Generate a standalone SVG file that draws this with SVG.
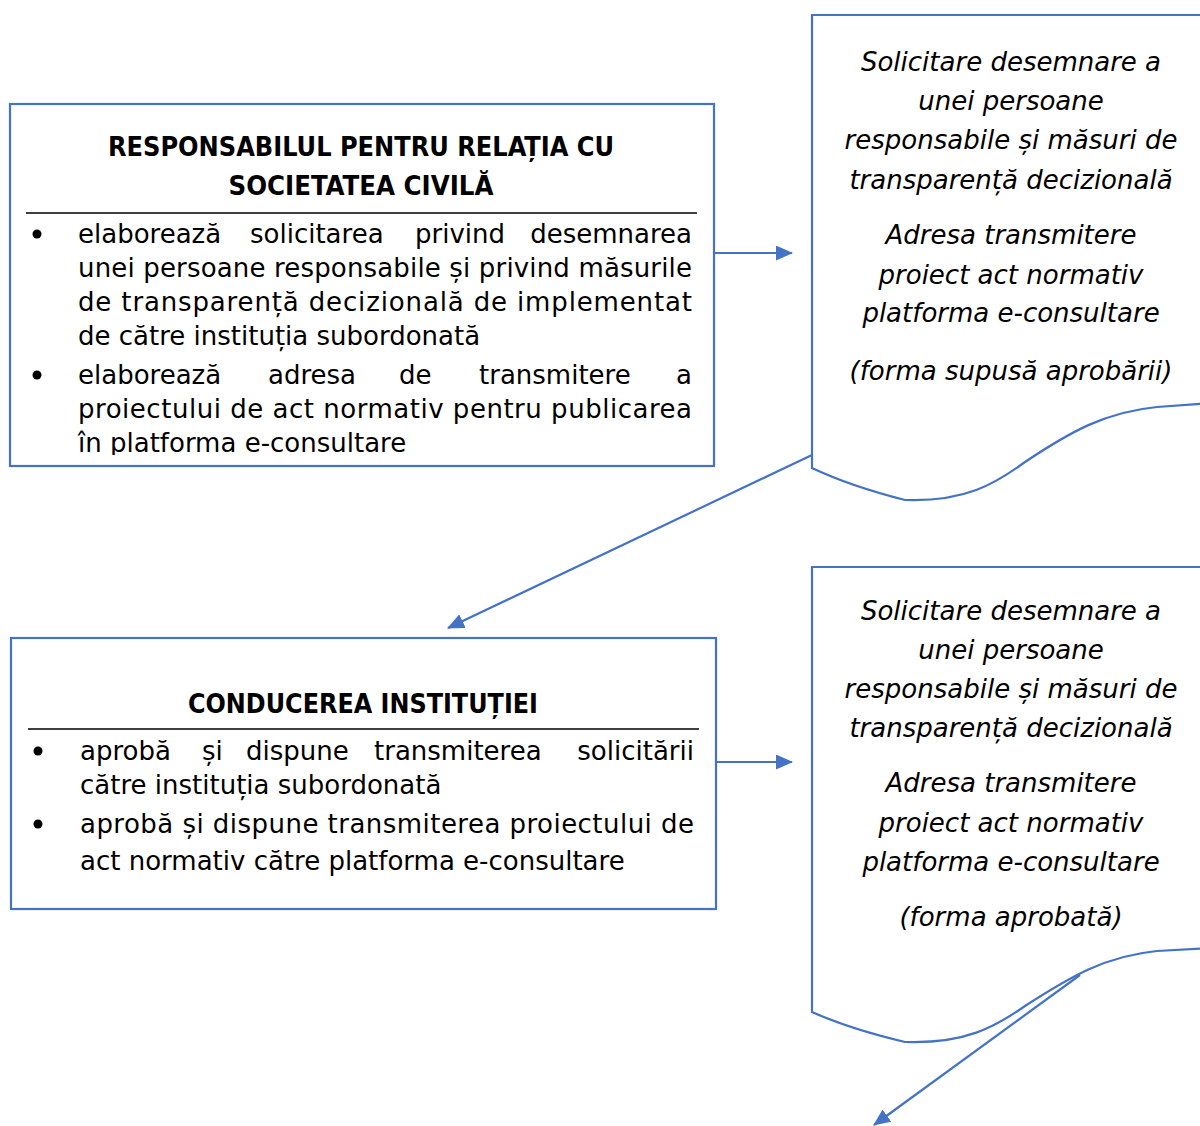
<svg xmlns="http://www.w3.org/2000/svg" width="1200" height="1126" viewBox="0 0 1200 1126">
  <style>
    .box { fill: #ffffff; stroke: #4472C4; stroke-width: 2.2; }
    .sep { stroke: #000000; stroke-width: 1.6; }
    .conn { fill: none; stroke: #4472C4; stroke-width: 2.2; }
    .head { font-family: "DejaVu Sans Condensed", "DejaVu Sans", sans-serif; font-stretch: condensed; font-weight: bold; font-size: 26px; fill: #000; text-anchor: middle; }
    .body { font-family: "DejaVu Sans", sans-serif; font-size: 26px; fill: #000; }
    .end { text-anchor: end; }
    .doc { font-family: "DejaVu Sans", sans-serif; font-style: italic; font-size: 26px; fill: #000; text-anchor: middle; }
    .dot { fill: #000; }
  </style>
  <defs>
    <marker id="arrow" markerUnits="userSpaceOnUse" markerWidth="17" markerHeight="15" refX="16" refY="7.5" orient="auto">
      <path d="M0,0 L17,7.5 L0,15 Z" fill="#4472C4"/>
    </marker>
    <clipPath id="clip1">
      <rect x="10" y="104" width="704" height="351"/>
    </clipPath>
  </defs>

  <!-- Responsible person box -->
  <g id="responsabil">
    <rect class="box" x="10" y="104" width="704" height="362"/>
    <text class="head" x="361" y="156" textLength="506" lengthAdjust="spacingAndGlyphs">RESPONSABILUL PENTRU RELAȚIA CU</text>
    <text class="head" x="361" y="195" textLength="265" lengthAdjust="spacingAndGlyphs">SOCIETATEA CIVILĂ</text>
    <line class="sep" x1="26" y1="213" x2="697" y2="213"/>
    <g clip-path="url(#clip1)">
      <circle class="dot" cx="37" cy="234" r="4.5"/>
      <text class="body" x="78" y="243">elaborează</text>
      <text class="body" x="250" y="243">solicitarea</text>
      <text class="body" x="415" y="243">privind</text>
      <text class="body end" x="692" y="243">desemnarea</text>
      <text class="body" x="78" y="277" textLength="614" lengthAdjust="spacing">unei persoane responsabile și privind măsurile</text>
      <text class="body" x="78" y="311" textLength="614" lengthAdjust="spacing">de transparență decizională de implementat</text>
      <text class="body" x="78" y="345">de către instituția subordonată</text>
      <circle class="dot" cx="37" cy="375" r="4.5"/>
      <text class="body" x="78" y="384">elaborează</text>
      <text class="body" x="268" y="384">adresa</text>
      <text class="body" x="399" y="384">de</text>
      <text class="body" x="479" y="384">transmitere</text>
      <text class="body end" x="692" y="384">a</text>
      <text class="body" x="78" y="418" textLength="614" lengthAdjust="spacing">proiectului de act normativ pentru publicarea</text>
      <text class="body" x="78" y="452">în platforma e-consultare</text>
    </g>
  </g>

  <!-- Institution management box -->
  <g id="conducerea">
    <rect class="box" x="11" y="638" width="705" height="271"/>
    <text class="head" x="363" y="713" textLength="350" lengthAdjust="spacingAndGlyphs">CONDUCEREA INSTITUȚIEI</text>
    <line class="sep" x1="28" y1="729" x2="699" y2="729"/>
    <circle class="dot" cx="38" cy="751" r="4.5"/>
    <text class="body" x="80" y="760">aprobă</text>
    <text class="body" x="202" y="760">și</text>
    <text class="body" x="246" y="760">dispune</text>
    <text class="body" x="374" y="760">transmiterea</text>
    <text class="body end" x="694" y="760">solicitării</text>
    <text class="body" x="80" y="794">către instituția subordonată</text>
    <circle class="dot" cx="38" cy="824" r="4.5"/>
    <text class="body" x="80" y="833" textLength="614" lengthAdjust="spacing">aprobă și dispune transmiterea proiectului de</text>
    <text class="body" x="80" y="870">act normativ către platforma e-consultare</text>
  </g>

  <!-- Document: draft for approval -->
  <g id="doc-supus">
    <path class="box" d="M1212,15 L812,15 L812,468 Q850,486 905,500 C965,502 995,484 1025,462 C1070,432 1105,412 1157,407 L1212,403"/>
    <text class="doc" x="1011" y="71">Solicitare desemnare a</text>
    <text class="doc" x="1011" y="110">unei persoane</text>
    <text class="doc" x="1011" y="149">responsabile și măsuri de</text>
    <text class="doc" x="1011" y="189">transparență decizională</text>
    <text class="doc" x="1011" y="244">Adresa transmitere</text>
    <text class="doc" x="1011" y="284">proiect act normativ</text>
    <text class="doc" x="1011" y="322">platforma e-consultare</text>
    <text class="doc" x="1011" y="380">(forma supusă aprobării)</text>
  </g>

  <!-- Document: approved form -->
  <g id="doc-aprobat">
    <path class="box" d="M1212,567 L812,567 L812,1012 Q850,1029 905,1042 C965,1044 995,1027 1025,1006 C1070,977 1105,956 1157,951 L1212,948"/>
    <text class="doc" x="1011" y="620">Solicitare desemnare a</text>
    <text class="doc" x="1011" y="659">unei persoane</text>
    <text class="doc" x="1011" y="698">responsabile și măsuri de</text>
    <text class="doc" x="1011" y="737">transparență decizională</text>
    <text class="doc" x="1011" y="792">Adresa transmitere</text>
    <text class="doc" x="1011" y="832">proiect act normativ</text>
    <text class="doc" x="1011" y="871">platforma e-consultare</text>
    <text class="doc" x="1011" y="926">(forma aprobată)</text>
  </g>

  <!-- Connectors -->
  <g id="connectors">
    <line class="conn" x1="714" y1="253" x2="792" y2="253" marker-end="url(#arrow)"/>
    <line class="conn" x1="812" y1="455" x2="448" y2="628" marker-end="url(#arrow)"/>
    <line class="conn" x1="716" y1="762" x2="792" y2="762" marker-end="url(#arrow)"/>
    <line class="conn" x1="1080" y1="975" x2="874" y2="1125" marker-end="url(#arrow)"/>
  </g>
</svg>
